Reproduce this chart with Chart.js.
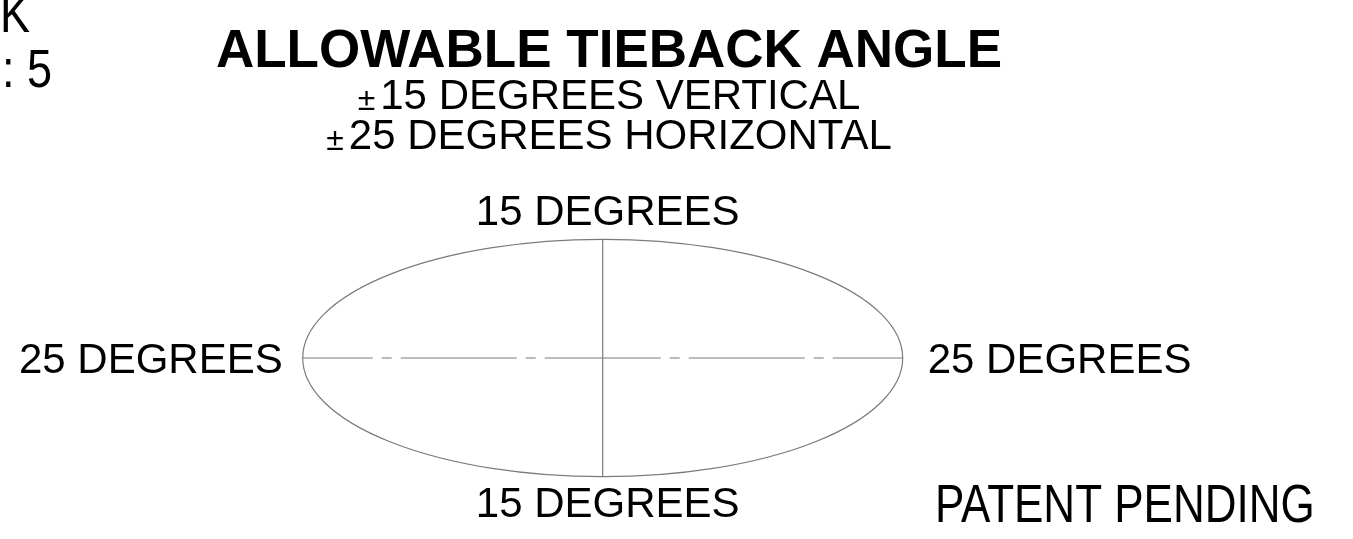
<!DOCTYPE html>
<html>
<head>
<meta charset="utf-8">
<script src="https://cdn.jsdelivr.net/npm/chart.js@4.4.1/dist/chart.umd.min.js"></script>
<style>
  html, body { margin: 0; padding: 0; background: #fff; }
  #wrap { width: 1353px; height: 539px; }
</style>
</head>
<body>
<div id="wrap"><canvas id="myChart" width="1353" height="539"></canvas></div>
<script>
// limits of the tieback, in degrees
const verticalLimit = 15;
const horizontalLimit = 25;

const titleText = 'ALLOWABLE TIEBACK ANGLE';
const toleranceLines = ['15 DEGREES VERTICAL', '25 DEGREES HORIZONTAL'];
const limitLabels = ['15 DEGREES', '25 DEGREES', '25 DEGREES', '15 DEGREES']; // top, left, right, bottom
const cornerNote = ['K', ': 5'];
const footNote = 'PATENT PENDING';

const verticalAxisLine = [{x: 0, y: -verticalLimit}, {x: 0, y: verticalLimit}];
const horizontalAxisLine = [{x: -horizontalLimit, y: 0}, {x: horizontalLimit, y: 0}];

const lineGray = '#7a7a7a';
const font = "'Liberation Sans', Arial, Helvetica, sans-serif";

const ctx = document.getElementById("myChart");

// the ellipse of allowed angles
const ellipsePlugin = {
  id: 'ellipse',
  afterDatasetsDraw(chart) {
    const c = chart.ctx;
    const x = chart.scales.x, y = chart.scales.y;
    const cx = x.getPixelForValue(0), cy = y.getPixelForValue(0);
    const rx = x.getPixelForValue(horizontalLimit) - cx;
    const ry = cy - y.getPixelForValue(verticalLimit);
    c.save();
    c.strokeStyle = lineGray;
    c.lineWidth = 1.2;
    c.beginPath();
    c.ellipse(cx, cy, rx, ry, 0, 0, Math.PI * 2);
    c.stroke();
    c.restore();
  }
};

function narrowText(c, str, px, py, size, squeeze) {
  c.save();
  c.font = size + 'px ' + font;
  c.translate(px, py);
  c.scale(squeeze, 1);
  c.fillText(str, 0, 0);
  c.restore();
}

// all the lettering
const textPlugin = {
  id: 'lettering',
  afterDraw(chart) {
    const c = chart.ctx;
    const x = chart.scales.x, y = chart.scales.y;
    c.save();
    c.fillStyle = '#000';
    c.textBaseline = 'alphabetic';

    // title
    c.font = 'bold 53px ' + font;
    c.textAlign = 'center';
    c.fillText(titleText, 609, 67);

    // the two +/- lines
    const mid = 609;
    const baselines = [109, 149];
    toleranceLines.forEach((t, i) => {
      c.font = '42px ' + font;
      const tw = c.measureText(t).width;
      c.font = '32px ' + font;
      const pw = c.measureText('\u00b1').width;
      const gap = 5;
      const left = mid - (pw + gap + tw) / 2;
      c.textAlign = 'left';
      c.fillText('\u00b1', left, baselines[i] + 1);
      c.font = '42px ' + font;
      c.fillText(t, left + pw + gap, baselines[i]);
    });

    // limit labels around the ellipse
    c.font = '42px ' + font;
    const cap = 0.716 * 42;
    const cx = x.getPixelForValue(0), cy = y.getPixelForValue(0);
    c.textAlign = 'center';
    c.fillText(limitLabels[0], cx + 5, y.getPixelForValue(verticalLimit) - 14);
    c.fillText(limitLabels[3], cx + 5, y.getPixelForValue(-verticalLimit) + 10 + cap);
    c.textAlign = 'right';
    c.fillText(limitLabels[1], x.getPixelForValue(-horizontalLimit) - 20, cy + cap / 2);
    c.textAlign = 'left';
    c.fillText(limitLabels[2], x.getPixelForValue(horizontalLimit) + 25, cy + cap / 2);

    // narrow notes
    c.textAlign = 'left';
    narrowText(c, footNote, 935, 522, 53, 0.83);
    narrowText(c, cornerNote[0], 0, 32, 53, 0.85);
    narrowText(c, cornerNote[1], 2, 87, 53, 0.85);
    c.restore();
  }
};

let myChart = new Chart(ctx, {
  type: 'line',
  data: {
    datasets: [{
      label: 'vertical',
      data: verticalAxisLine,
      borderColor: lineGray,
      borderWidth: 1.2,
      pointRadius: 0,
      fill: false
    }, {
      label: 'horizontal',
      data: horizontalAxisLine,
      borderColor: lineGray,
      borderWidth: 1.2,
      borderDash: [116, 9, 10, 9],
      borderDashOffset: 46,
      pointRadius: 0,
      fill: false
    }]
  },
  options: {
    responsive: false,
    animation: false,
    layout: { padding: 0 },
    scales: {
      x: { type: 'linear', display: false, min: -50.225, max: 62.525 },
      y: { type: 'linear', display: false, min: -22.87, max: 45.24 }
    },
    plugins: {
      legend: { display: false },
      tooltip: { enabled: false },
      title: { display: false }
    }
  },
  plugins: [ellipsePlugin, textPlugin]
});
</script>
</body>
</html>
